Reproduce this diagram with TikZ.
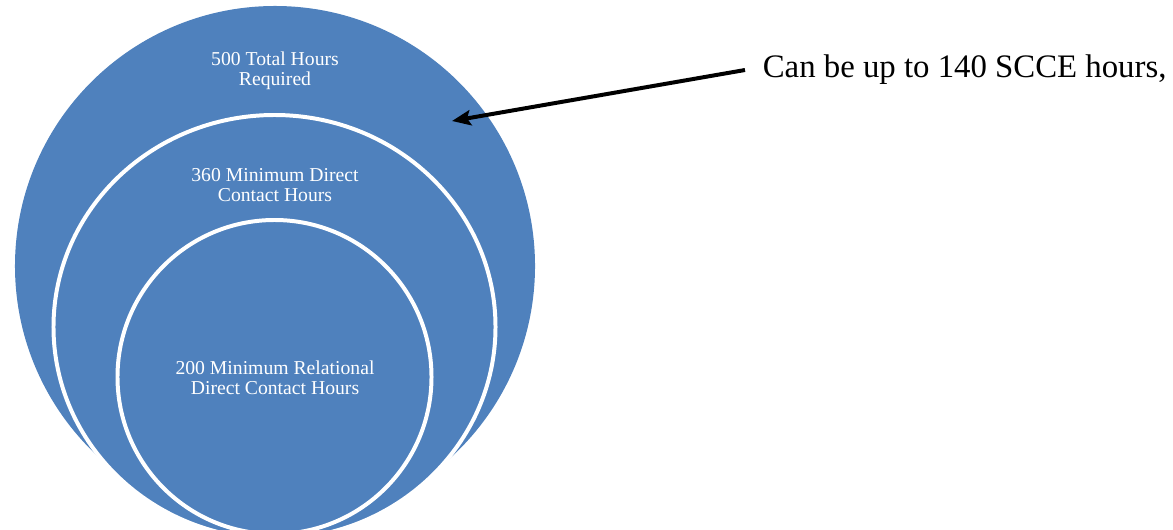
\documentclass[tikz,border=0pt]{standalone}
\usepackage{fontspec}
\setmainfont{Liberation Serif}
\usetikzlibrary{arrows.meta}
\definecolor{ringblue}{HTML}{4F81BD}
\begin{document}
\begin{tikzpicture}[x=0.03cm,y=-0.03cm,
    ring/.style={fill=ringblue,draw=white,line width=3.4pt},
    ringtext/.style={text=white,align=center,font=\fontsize{16.8}{17}\selectfont},
    note/.style={font=\fontsize{28}{30}\selectfont,inner xsep=15pt,inner ysep=0pt}]
  \useasboundingbox (0,0) rectangle (1173,529);
  \begin{scope}
    \clip (0,0) rectangle (1173,529);
    \fill[ringblue] (275,266) circle [radius=7.8cm];
    \draw[ring] (274.5,327) ellipse [x radius=6.63cm, y radius=6.36cm];
    \draw[ring] (274.5,377) circle [radius=4.71cm];
  \end{scope}
  \node[ringtext] (total) at (275,71) {500 Total Hours\\Required};
  \node[ringtext] (direct) at (275,185) {360 Minimum Direct\\Contact Hours};
  \node[ringtext] (relational) at (275,378) {200 Minimum Relational\\Direct Contact Hours};
  \node[note,anchor=west] (scce) at (745,70) {Can be up to 140 SCCE hours,};
  \coordinate (tip) at (452,121);
  \draw[line width=3.4pt,-{Stealth[length=16pt,width=13pt,inset=3pt]}] (scce.west) -- (tip);
\end{tikzpicture}
\end{document}
